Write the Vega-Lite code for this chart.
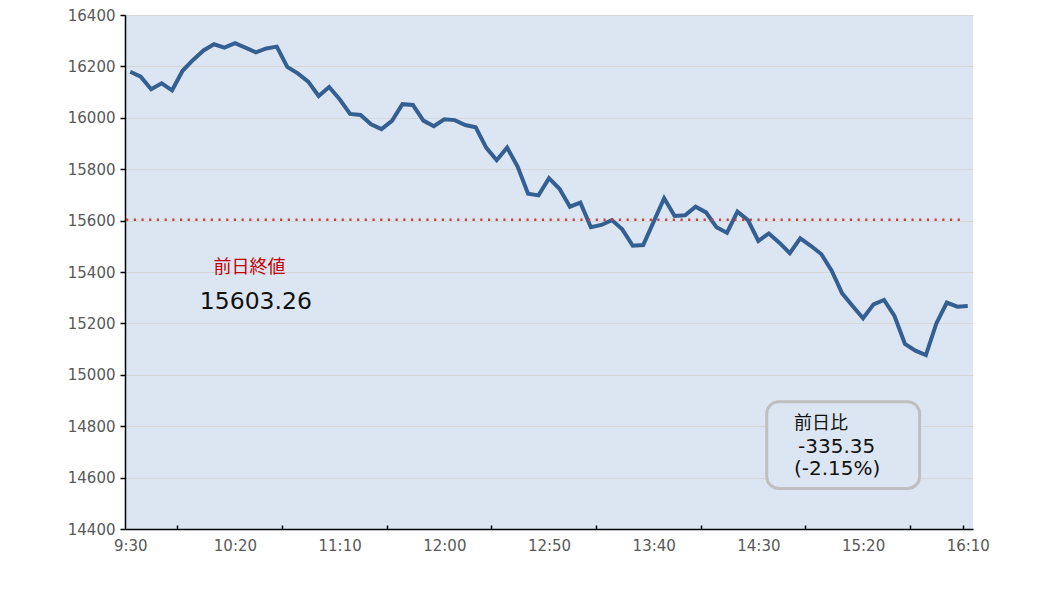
{
  "$schema": "https://vega.github.io/schema/vega-lite/v6.json",
  "width": 848,
  "height": 514,
  "autosize": {"type": "none"},
  "padding": {"left": 125, "top": 15, "right": 65, "bottom": 69},
  "background": "white",
  "config": {"view": {"fill": "#dce6f2", "stroke": null}},
  "datasets": {
    "price": [
      {"t": "09:30", "v": 16179}, {"t": "09:35", "v": 16160}, {"t": "09:40", "v": 16111}, {"t": "09:45", "v": 16134},
      {"t": "09:50", "v": 16107}, {"t": "09:55", "v": 16183}, {"t": "10:00", "v": 16225}, {"t": "10:05", "v": 16262},
      {"t": "10:10", "v": 16286}, {"t": "10:15", "v": 16273}, {"t": "10:20", "v": 16290}, {"t": "10:25", "v": 16273},
      {"t": "10:30", "v": 16255}, {"t": "10:35", "v": 16270}, {"t": "10:40", "v": 16277}, {"t": "10:45", "v": 16198},
      {"t": "10:50", "v": 16173}, {"t": "10:55", "v": 16141}, {"t": "11:00", "v": 16085}, {"t": "11:05", "v": 16120},
      {"t": "11:10", "v": 16072}, {"t": "11:15", "v": 16015}, {"t": "11:20", "v": 16011}, {"t": "11:25", "v": 15975},
      {"t": "11:30", "v": 15956}, {"t": "11:35", "v": 15988}, {"t": "11:40", "v": 16053}, {"t": "11:45", "v": 16050},
      {"t": "11:50", "v": 15989}, {"t": "11:55", "v": 15967}, {"t": "12:00", "v": 15994}, {"t": "12:05", "v": 15991},
      {"t": "12:10", "v": 15972}, {"t": "12:15", "v": 15963}, {"t": "12:20", "v": 15884}, {"t": "12:25", "v": 15835},
      {"t": "12:30", "v": 15884}, {"t": "12:35", "v": 15810}, {"t": "12:40", "v": 15705}, {"t": "12:45", "v": 15698},
      {"t": "12:50", "v": 15765}, {"t": "12:55", "v": 15724}, {"t": "13:00", "v": 15654}, {"t": "13:05", "v": 15670},
      {"t": "13:10", "v": 15574}, {"t": "13:15", "v": 15583}, {"t": "13:20", "v": 15602}, {"t": "13:25", "v": 15566},
      {"t": "13:30", "v": 15502}, {"t": "13:35", "v": 15505}, {"t": "13:40", "v": 15596}, {"t": "13:45", "v": 15687},
      {"t": "13:50", "v": 15618}, {"t": "13:55", "v": 15621}, {"t": "14:00", "v": 15654}, {"t": "14:05", "v": 15632},
      {"t": "14:10", "v": 15574}, {"t": "14:15", "v": 15553}, {"t": "14:20", "v": 15635}, {"t": "14:25", "v": 15602},
      {"t": "14:30", "v": 15521}, {"t": "14:35", "v": 15550}, {"t": "14:40", "v": 15514}, {"t": "14:45", "v": 15473},
      {"t": "14:50", "v": 15531}, {"t": "14:55", "v": 15502}, {"t": "15:00", "v": 15470}, {"t": "15:05", "v": 15405},
      {"t": "15:10", "v": 15317}, {"t": "15:15", "v": 15268}, {"t": "15:20", "v": 15220}, {"t": "15:25", "v": 15274},
      {"t": "15:30", "v": 15291}, {"t": "15:35", "v": 15229}, {"t": "15:40", "v": 15120}, {"t": "15:45", "v": 15094},
      {"t": "15:50", "v": 15077}, {"t": "15:55", "v": 15200}, {"t": "16:00", "v": 15281}, {"t": "16:05", "v": 15265},
      {"t": "16:10", "v": 15268}
    ],
    "close": [{"from": "09:28", "to": "16:07", "v": 15603.26}],
    "closeLabel": [
      {"t": "10:27", "v": 15416, "label": "前日終値"}
    ],
    "closeValue": [
      {"t": "10:30", "v": 15283, "label": "15603.26"}
    ],
    "box": [{"from": "14:34", "to": "15:47", "top": 14895, "bottom": 14558}],
    "boxTitle": [{"t": "14:46", "v": 14809, "label": "前日比"}],
    "boxValues": [
      {"t": "14:48", "v": 14719, "label": "-335.35"},
      {"t": "14:46", "v": 14634, "label": "(-2.15%)"}
    ]
  },
  "layer": [
    {
      "data": {"name": "price", "format": {"parse": {"t": "date:'%H:%M'"}}},
      "mark": {"type": "line", "color": "#345f92", "strokeWidth": 4},
      "encoding": {
        "x": {
          "field": "t", "type": "temporal",
          "scale": {"domain": [{"year": 1900, "month": 1, "date": 1, "hours": 9, "minutes": 27, "seconds": 30}, {"year": 1900, "month": 1, "date": 1, "hours": 16, "minutes": 12, "seconds": 30}]},
          "axis": {
            "orient": "bottom",
            "title": null,
            "values": [
              {"year": 1900, "month": 1, "date": 1, "hours": 9, "minutes": 30},
              {"year": 1900, "month": 1, "date": 1, "hours": 10, "minutes": 20},
              {"year": 1900, "month": 1, "date": 1, "hours": 11, "minutes": 10},
              {"year": 1900, "month": 1, "date": 1, "hours": 12, "minutes": 0},
              {"year": 1900, "month": 1, "date": 1, "hours": 12, "minutes": 50},
              {"year": 1900, "month": 1, "date": 1, "hours": 13, "minutes": 40},
              {"year": 1900, "month": 1, "date": 1, "hours": 14, "minutes": 30},
              {"year": 1900, "month": 1, "date": 1, "hours": 15, "minutes": 20},
              {"year": 1900, "month": 1, "date": 1, "hours": 16, "minutes": 10}
            ],
            "format": "%-H:%M",
            "ticks": false,
            "grid": false,
            "domain": true,
            "domainColor": "black",
            "domainWidth": 1.5,
            "labelFont": "DejaVu Sans",
            "labelFontSize": 15,
            "labelColor": "#595959",
            "labelPadding": 9,
            "labelFlush": false,
            "labelOverlap": false,
            "labelBound": false
          }
        },
        "y": {
          "field": "v", "type": "quantitative",
          "scale": {"domain": [14400, 16400], "nice": false, "zero": false},
          "axis": {
            "title": null,
            "values": [14400, 14600, 14800, 15000, 15200, 15400, 15600, 15800, 16000, 16200, 16400],
            "format": "d",
            "grid": true,
            "gridColor": "#d6d6d6",
            "gridWidth": 1,
            "domainColor": "black",
            "domainWidth": 1.5,
            "tickColor": "black",
            "tickSize": 5,
            "tickWidth": 1.5,
            "labelPadding": 5,
            "labelFont": "DejaVu Sans",
            "labelFontSize": 15,
            "labelColor": "#595959"
          }
        }
      }
    },
    {
      "data": {"name": "box", "format": {"parse": {"from": "date:'%H:%M'", "to": "date:'%H:%M'"}}},
      "mark": {"type": "rect", "fill": "#dce6f2", "stroke": "#bfbfbf", "strokeWidth": 3, "cornerRadius": 12},
      "encoding": {
        "x": {"field": "from", "type": "temporal", "axis": null,
              "scale": {"domain": [{"year": 1900, "month": 1, "date": 1, "hours": 9, "minutes": 27, "seconds": 30}, {"year": 1900, "month": 1, "date": 1, "hours": 16, "minutes": 12, "seconds": 30}]}},
        "x2": {"field": "to"},
        "y": {"field": "top", "type": "quantitative", "axis": null, "scale": {"domain": [14400, 16400], "nice": false, "zero": false}},
        "y2": {"field": "bottom"}
      }
    },
    {
      "data": {"name": "close", "format": {"parse": {"from": "date:'%H:%M'", "to": "date:'%H:%M'"}}},
      "mark": {"type": "rule", "color": "#c8413e", "strokeWidth": 2.5, "strokeDash": [2.2, 5.5]},
      "encoding": {
        "x": {
          "field": "from", "type": "temporal",
          "scale": {"domain": [{"year": 1900, "month": 1, "date": 1, "hours": 9, "minutes": 27, "seconds": 30}, {"year": 1900, "month": 1, "date": 1, "hours": 16, "minutes": 12, "seconds": 30}]},
          "axis": {
            "orient": "bottom",
            "title": null,
            "values": [
              {"year": 1900, "month": 1, "date": 1, "hours": 9, "minutes": 52, "seconds": 30},
              {"year": 1900, "month": 1, "date": 1, "hours": 10, "minutes": 42, "seconds": 30},
              {"year": 1900, "month": 1, "date": 1, "hours": 11, "minutes": 32, "seconds": 30},
              {"year": 1900, "month": 1, "date": 1, "hours": 12, "minutes": 22, "seconds": 30},
              {"year": 1900, "month": 1, "date": 1, "hours": 13, "minutes": 12, "seconds": 30},
              {"year": 1900, "month": 1, "date": 1, "hours": 14, "minutes": 2, "seconds": 30},
              {"year": 1900, "month": 1, "date": 1, "hours": 14, "minutes": 52, "seconds": 30},
              {"year": 1900, "month": 1, "date": 1, "hours": 15, "minutes": 42, "seconds": 30},
              {"year": 1900, "month": 1, "date": 1, "hours": 16, "minutes": 7, "seconds": 30}
            ],
            "labels": false,
            "domain": false,
            "grid": false,
            "ticks": true,
            "tickSize": -4,
            "tickWidth": 1.5,
            "tickColor": "black"
          }
        },
        "x2": {"field": "to"},
        "y": {"field": "v", "type": "quantitative", "axis": null, "scale": {"domain": [14400, 16400], "nice": false, "zero": false}}
      }
    },
    {
      "data": {"name": "closeLabel", "format": {"parse": {"t": "date:'%H:%M'"}}},
      "mark": {"type": "text", "font": "Noto Sans CJK JP", "fontSize": 18, "color": "#c00000", "align": "center", "baseline": "middle"},
      "encoding": {
        "x": {"field": "t", "type": "temporal", "axis": null,
              "scale": {"domain": [{"year": 1900, "month": 1, "date": 1, "hours": 9, "minutes": 27, "seconds": 30}, {"year": 1900, "month": 1, "date": 1, "hours": 16, "minutes": 12, "seconds": 30}]}},
        "y": {"field": "v", "type": "quantitative", "axis": null, "scale": {"domain": [14400, 16400], "nice": false, "zero": false}},
        "text": {"field": "label"}
      }
    },
    {
      "data": {"name": "closeValue", "format": {"parse": {"t": "date:'%H:%M'"}}},
      "mark": {"type": "text", "font": "DejaVu Sans", "fontSize": 23.5, "color": "#111111", "align": "center", "baseline": "middle"},
      "encoding": {
        "x": {"field": "t", "type": "temporal", "axis": null,
              "scale": {"domain": [{"year": 1900, "month": 1, "date": 1, "hours": 9, "minutes": 27, "seconds": 30}, {"year": 1900, "month": 1, "date": 1, "hours": 16, "minutes": 12, "seconds": 30}]}},
        "y": {"field": "v", "type": "quantitative", "axis": null, "scale": {"domain": [14400, 16400], "nice": false, "zero": false}},
        "text": {"field": "label"}
      }
    },
    {
      "data": {"name": "boxTitle", "format": {"parse": {"t": "date:'%H:%M'"}}},
      "mark": {"type": "text", "font": "Noto Sans CJK JP", "fontSize": 18, "color": "#111111", "align": "left", "baseline": "middle", "dx": 2},
      "encoding": {
        "x": {"field": "t", "type": "temporal", "axis": null,
              "scale": {"domain": [{"year": 1900, "month": 1, "date": 1, "hours": 9, "minutes": 27, "seconds": 30}, {"year": 1900, "month": 1, "date": 1, "hours": 16, "minutes": 12, "seconds": 30}]}},
        "y": {"field": "v", "type": "quantitative", "axis": null, "scale": {"domain": [14400, 16400], "nice": false, "zero": false}},
        "text": {"field": "label"}
      }
    },
    {
      "data": {"name": "boxValues", "format": {"parse": {"t": "date:'%H:%M'"}}},
      "mark": {"type": "text", "font": "DejaVu Sans", "fontSize": 20, "color": "#111111", "align": "left", "baseline": "middle", "dx": 2},
      "encoding": {
        "x": {"field": "t", "type": "temporal", "axis": null,
              "scale": {"domain": [{"year": 1900, "month": 1, "date": 1, "hours": 9, "minutes": 27, "seconds": 30}, {"year": 1900, "month": 1, "date": 1, "hours": 16, "minutes": 12, "seconds": 30}]}},
        "y": {"field": "v", "type": "quantitative", "axis": null, "scale": {"domain": [14400, 16400], "nice": false, "zero": false}},
        "text": {"field": "label"}
      }
    }
  ],
  "resolve": {"axis": {"x": "independent", "y": "independent"}}
}
